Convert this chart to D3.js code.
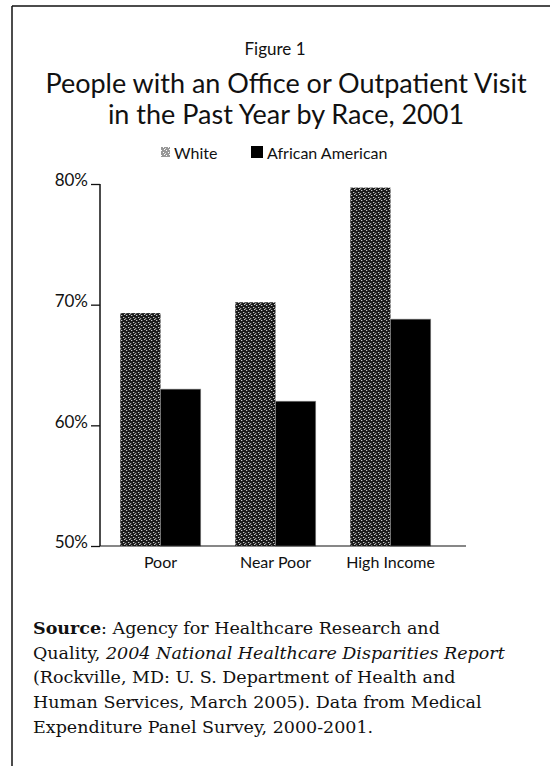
<!DOCTYPE html>
<html>
<head>
<meta charset="utf-8">
<script src="https://cdn.jsdelivr.net/npm/d3@7"></script>
<style>
  body { margin: 0; background: #fff; }
  svg { display: block; }
</style>
</head>
<body>
<div id="chart"></div>
<script>
// data
const categories = ["Poor", "Near Poor", "High Income"];
const seriesNames = ["White", "African American"];
const whiteValues = [69.3, 70.2, 79.7];
const blackValues = [63.0, 62.0, 68.8];
const yTicks = [50, 60, 70, 80];

const W = 550, H = 766;

const svg = d3.select("#chart")
  .append("svg")
  .attr("width", W)
  .attr("height", H);

// stipple pattern for the "White" bars
const defs = svg.append("defs");
const pat = defs.append("pattern")
  .attr("id", "stipple")
  .attr("width", 5)
  .attr("height", 5)
  .attr("patternUnits", "userSpaceOnUse");
pat.append("rect").attr("width", 5).attr("height", 5).attr("fill", "#1a1a1a");
pat.append("rect").attr("x", 1).attr("y", 0).attr("width", 1).attr("height", 1).attr("fill", "#fff");
pat.append("rect").attr("x", 3).attr("y", 2).attr("width", 1).attr("height", 1).attr("fill", "#fff");
pat.append("rect").attr("x", 0).attr("y", 3).attr("width", 1).attr("height", 1).attr("fill", "#ccc");
pat.append("rect").attr("x", 4).attr("y", 4).attr("width", 1).attr("height", 1).attr("fill", "#fff");

// frame
svg.append("line").attr("x1", 12).attr("y1", 6).attr("x2", W).attr("y2", 6)
  .attr("stroke", "#111").attr("stroke-width", 1.5);
svg.append("line").attr("x1", 12).attr("y1", 6).attr("x2", 12).attr("y2", H)
  .attr("stroke", "#111").attr("stroke-width", 1.5);

const sans = "Lato, 'Noto Sans', sans-serif";

// titles
svg.append("text").attr("x", 275).attr("y", 55)
  .attr("text-anchor", "middle").attr("font-family", sans)
  .attr("font-size", 17).attr("fill", "#111").text("Figure 1");
svg.append("text").attr("x", 286).attr("y", 93)
  .attr("text-anchor", "middle").attr("font-family", sans)
  .attr("font-size", 27).attr("fill", "#111")
  .text("People with an Office or Outpatient Visit");
svg.append("text").attr("x", 286).attr("y", 124)
  .attr("text-anchor", "middle").attr("font-family", sans)
  .attr("font-size", 27).attr("fill", "#111")
  .text("in the Past Year by Race, 2001");

// legend
const legend = svg.append("g").attr("font-family", sans).attr("font-size", 16).attr("fill", "#111");
legend.append("rect").attr("x", 161).attr("y", 147).attr("width", 9).attr("height", 10)
  .attr("fill", "url(#stipple)").attr("opacity", 0.45);
legend.append("text").attr("x", 174).attr("y", 159).text(seriesNames[0]);
legend.append("rect").attr("x", 251).attr("y", 146).attr("width", 12).attr("height", 12)
  .attr("fill", "#000");
legend.append("text").attr("x", 267).attr("y", 159).text(seriesNames[1]);

// scales
const y = d3.scaleLinear().domain([50, 80]).range([546, 184]);
const x0 = d3.scaleBand().domain(categories).range([103, 448])
  .paddingInner(0.3).paddingOuter(0.15);
const x1 = d3.scaleBand().domain(seriesNames).range([0, x0.bandwidth()]);

// y axis
const yAxis = svg.append("g")
  .attr("transform", "translate(100,0)")
  .call(d3.axisLeft(y).tickValues(yTicks).tickFormat(d => d + "%").tickSize(9).tickPadding(3));
yAxis.select(".domain").attr("stroke", "#111").attr("stroke-width", 1.5)
  .attr("d", "M0," + y(50) + "V" + y(80));
yAxis.selectAll(".tick line").attr("stroke", "#111").attr("stroke-width", 1.3);
yAxis.selectAll(".tick text").attr("font-family", sans).attr("font-size", 17)
  .attr("fill", "#111").attr("dy", "0.1em");

// bars
const rows = categories.map((c, i) => ({ cat: c, vals: [whiteValues[i], blackValues[i]] }));
const groups = svg.append("g").selectAll("g")
  .data(rows).enter().append("g")
  .attr("transform", d => "translate(" + x0(d.cat) + ",0)");
groups.selectAll("rect")
  .data(d => d.vals.map((v, j) => ({ key: seriesNames[j], v: v })))
  .enter().append("rect")
  .attr("x", d => x1(d.key))
  .attr("y", d => y(d.v))
  .attr("width", x1.bandwidth())
  .attr("height", d => y(50) - y(d.v))
  .attr("fill", d => d.key === "White" ? "url(#stipple)" : "#000")
  .attr("stroke", d => d.key === "White" ? "none" : "#888")
  .attr("stroke-width", 0.6);

// baseline
svg.append("line").attr("x1", 100).attr("x2", 466).attr("y1", y(50)).attr("y2", y(50))
  .attr("stroke", "#111").attr("stroke-width", 1.2);

// category labels
svg.append("g").selectAll("text")
  .data(categories).enter().append("text")
  .attr("x", d => x0(d) + x0.bandwidth() / 2)
  .attr("y", 568)
  .attr("text-anchor", "middle")
  .attr("font-family", sans)
  .attr("font-size", 16)
  .attr("fill", "#111")
  .text(d => d);

// source note
const serif = "'DejaVu Serif', 'Liberation Serif', serif";
const note = svg.append("text").attr("font-family", serif).attr("font-size", 17.5).attr("fill", "#111");
const l1 = note.append("tspan").attr("x", 33).attr("y", 634);
l1.append("tspan").attr("font-weight", "bold").text("Source");
l1.append("tspan").text(": Agency for Healthcare Research and");
const l2 = note.append("tspan").attr("x", 33).attr("y", 659);
l2.append("tspan").text("Quality, ");
l2.append("tspan").attr("font-style", "italic").text("2004 National Healthcare Disparities Report");
note.append("tspan").attr("x", 33).attr("y", 683)
  .text("(Rockville, MD: U. S. Department of Health and");
note.append("tspan").attr("x", 33).attr("y", 708)
  .text("Human Services, March 2005). Data from Medical");
note.append("tspan").attr("x", 33).attr("y", 733)
  .text("Expenditure Panel Survey, 2000-2001.");
</script>
</body>
</html>
